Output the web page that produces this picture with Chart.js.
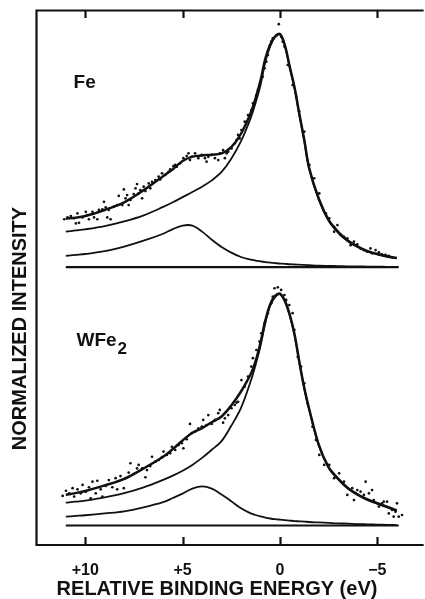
<!DOCTYPE html>
<html><head><meta charset="utf-8">
<style>html,body{margin:0;padding:0;background:#fff;}canvas{display:block;}</style>
</head><body>
<canvas id="c" width="425" height="599"></canvas>
<script src="https://cdn.jsdelivr.net/npm/chart.js@4.4.0/dist/chart.umd.min.js"></script>
<script>
// ---- data (relative binding energy in eV, normalized intensity above each panel's zero line) ----
const tickValues = [10, 5, 0, -5];
const tickLabels = ['+10', '+5', '0', '\u22125'];
const panelNames = ['Fe', 'WFe'];
const panelSub = ['', '2'];

const fitE = [11, 10.5, 10, 9, 8, 7, 6, 5.5, 5, 4.5, 4, 3.5, 3, 2.5, 2, 1.5, 1.25, 1, 0.75, 0.5, 0.25, 0,
  -0.25, -0.5, -0.75, -1, -1.25, -1.5, -2, -2.5, -3, -3.5, -4, -4.5, -5, -5.5, -6];

const feTotal = [0.208, 0.212, 0.219, 0.245, 0.278, 0.330, 0.390, 0.420, 0.455, 0.474, 0.479, 0.482, 0.488, 0.515, 0.572, 0.662, 0.725, 0.800, 0.895, 0.955, 0.990, 1.000,
  0.952, 0.860, 0.770, 0.655, 0.545, 0.425, 0.292, 0.202, 0.150, 0.113, 0.088, 0.068, 0.056, 0.046, 0.039];
const feMain = [0.152, 0.157, 0.162, 0.176, 0.196, 0.222, 0.258, 0.278, 0.300, 0.322, 0.345, 0.372, 0.408, 0.465, 0.540, 0.640, 0.705, 0.780, 0.880, 0.948, 0.987, 0.998,
  0.950, 0.857, 0.766, 0.651, 0.541, 0.421, 0.288, 0.198, 0.146, 0.110, 0.085, 0.066, 0.054, 0.044, 0.038];
const feSat = [0.048, 0.052, 0.056, 0.068, 0.088, 0.113, 0.143, 0.163, 0.178, 0.178, 0.152, 0.117, 0.086, 0.062, 0.043, 0.032, 0.028, 0.024, 0.021, 0.019, 0.017, 0.015,
  0.014, 0.012, 0.011, 0.010, 0.009, 0.008, 0.006, 0.005, 0.004, 0.003, 0.003, 0.002, 0.002, 0.001, 0.001];

const wTotal = [0.131, 0.139, 0.148, 0.172, 0.200, 0.245, 0.295, 0.328, 0.365, 0.398, 0.418, 0.443, 0.468, 0.515, 0.575, 0.650, 0.705, 0.785, 0.880, 0.950, 0.985, 0.995,
  0.965, 0.905, 0.820, 0.700, 0.590, 0.500, 0.345, 0.250, 0.200, 0.160, 0.133, 0.112, 0.096, 0.081, 0.065];
const wMain = [0.098, 0.102, 0.107, 0.121, 0.139, 0.164, 0.196, 0.214, 0.235, 0.260, 0.290, 0.325, 0.362, 0.428, 0.505, 0.620, 0.690, 0.770, 0.870, 0.943, 0.980, 0.992,
  0.962, 0.902, 0.817, 0.697, 0.587, 0.497, 0.342, 0.247, 0.197, 0.157, 0.130, 0.109, 0.093, 0.078, 0.062];
const wSat = [0.038, 0.041, 0.044, 0.052, 0.061, 0.078, 0.100, 0.118, 0.137, 0.158, 0.168, 0.158, 0.133, 0.104, 0.074, 0.052, 0.045, 0.039, 0.034, 0.030, 0.027, 0.025,
  0.023, 0.021, 0.019, 0.018, 0.017, 0.015, 0.013, 0.011, 0.009, 0.008, 0.006, 0.005, 0.004, 0.003, 0.002];

const baseE = [11, -6.1];
const baseH = [0, 0];

const feDotE = [11.08, 10.91, 10.74, 10.57, 10.48, 10.32, 10.40, 10.14, 9.97, 9.89, 9.81, 9.63, 9.55, 9.38, 9.30, 9.12, 9.04, 8.95, 8.87, 8.79, 8.70, 8.53, 8.36, 8.28, 8.10, 8.02, 7.93, 7.85, 7.77, 7.68,
  7.51, 7.42, 7.34, 7.26, 7.17, 7.08, 7.00, 6.91, 6.74, 6.66, 6.57, 6.40, 6.23, 6.15, 6.06, 5.89, 5.72, 5.64, 5.47, 5.38, 5.30, 5.13, 4.96, 4.79, 4.70, 4.62, 4.53, 4.36, 4.19, 4.02,
  3.85, 3.77, 3.68, 3.51, 3.34, 3.17, 3.09, 2.92, 2.83, 2.74, 2.66, 2.49, 2.32, 2.23, 2.15, 2.07,
  1.98, 1.81, 1.64, 1.47, 1.39, 1.21, 1.13, 1.05, 0.88, 0.79, 0.70, 0.62, 0.54, 0.45, 0.37, 0.19, 0.06, -0.06, -0.14, -0.23, -0.40, -0.65, -0.83, -0.99,
  -1.25, -1.51, -1.76, -2.02, -2.36, -2.53, -2.78, -2.95, -2.78, -3.12, -3.29, -3.46, -3.63, -3.80, -3.97, -4.14, -4.31, -4.48, -4.65, -4.73, -4.91, -5.08, -5.24, -5.42, -5.59];
const feDotH = [0.205, 0.213, 0.219, 0.209, 0.187, 0.190, 0.230, 0.213, 0.237, 0.223, 0.205, 0.237, 0.213, 0.205, 0.245, 0.248, 0.280, 0.256, 0.213, 0.245, 0.205, 0.259, 0.266, 0.305, 0.266, 0.333, 0.295, 0.309, 0.266, 0.288,
  0.313, 0.338, 0.356, 0.316, 0.330, 0.295, 0.345, 0.326, 0.359, 0.338, 0.366, 0.373, 0.388, 0.376, 0.402, 0.395, 0.409, 0.419, 0.433, 0.438, 0.430, 0.445, 0.467, 0.476, 0.488, 0.459, 0.473, 0.488, 0.467, 0.481,
  0.467, 0.452, 0.473, 0.481, 0.467, 0.459, 0.488, 0.502, 0.467, 0.488, 0.495, 0.509, 0.531, 0.545, 0.567, 0.552,
  0.588, 0.624, 0.652, 0.674, 0.702, 0.738, 0.760, 0.781, 0.817, 0.853, 0.881, 0.910, 0.946, 0.967, 0.981, 0.993, 1.042, 0.988, 0.967, 0.946, 0.867, 0.781, 0.731, 0.667,
  0.581, 0.438, 0.381, 0.316, 0.230, 0.209, 0.173, 0.180, 0.152, 0.137, 0.130, 0.123, 0.094, 0.109, 0.097, 0.080, 0.073, 0.066, 0.080, 0.059, 0.073, 0.063, 0.055, 0.052, 0.048];

const wDotE = [11.16, 10.99, 10.83, 10.65, 10.57, 10.40, 10.23, 10.14, 9.97, 9.81, 9.72, 9.63, 9.46, 9.38, 9.21, 9.12, 8.95, 8.79, 8.61, 8.44, 8.36, 8.19, 8.02, 7.93, 7.77, 7.68, 7.51, 7.34, 7.26, 7.08,
  6.91, 6.83, 6.66, 6.57, 6.40, 6.23, 6.06, 5.98, 5.81, 5.64, 5.55, 5.38, 5.21, 5.04, 4.96, 4.79, 4.62, 4.53, 4.36, 4.19, 4.02, 3.94, 3.77, 3.68, 3.51, 3.34, 3.17, 3.09, 2.92, 2.83,
  2.66, 2.49, 2.32, 2.23, 2.15, 1.98, 1.81, 1.64, 1.47, 1.39, 1.21, 1.05, 0.96, 0.79, 0.62, 0.45, 0.37, 0.28, 0.11, -0.06, -0.23, -0.32, -0.48, -0.65, -0.74, -0.91, -1.08, -1.25, -1.42, -1.67,
  -1.85, -2.02, -2.27, -2.53, -2.78, -3.04, -3.29, -3.46, -3.71, -3.80, -3.97, -4.14, -4.31, -4.40, -4.57, -4.73, -4.82, -5.08, -5.24, -5.33, -5.50, -5.59, -5.76, -5.84, -5.93, -6.01, -6.10, -6.27];
const wDotH = [0.127, 0.149, 0.138, 0.160, 0.124, 0.155, 0.138, 0.174, 0.145, 0.164, 0.117, 0.188, 0.138, 0.192, 0.155, 0.124, 0.170, 0.195, 0.164, 0.203, 0.155, 0.212, 0.160, 0.203, 0.227, 0.267, 0.221, 0.245, 0.260, 0.245,
  0.207, 0.238, 0.255, 0.295, 0.274, 0.281, 0.293, 0.317, 0.303, 0.310, 0.338, 0.324, 0.345, 0.353, 0.331, 0.370, 0.436, 0.396, 0.403, 0.417, 0.424, 0.453, 0.431, 0.474, 0.436, 0.453, 0.482, 0.496, 0.441, 0.460,
  0.474, 0.503, 0.517, 0.527, 0.531, 0.624, 0.596, 0.639, 0.682, 0.718, 0.753, 0.789, 0.825, 0.868, 0.911, 0.954, 0.982, 1.018, 1.022, 1.011, 0.989, 0.968, 0.946, 0.911, 0.839, 0.724, 0.682, 0.610, 0.524, 0.424,
  0.367, 0.303, 0.260, 0.260, 0.203, 0.224, 0.188, 0.131, 0.160, 0.109, 0.152, 0.145, 0.131, 0.188, 0.138, 0.152, 0.109, 0.081, 0.095, 0.102, 0.102, 0.052, 0.067, 0.038, 0.059, 0.095, 0.038, 0.045];

// vertical arrangement of the two panels on one shared intensity axis
const panelOffset = [1.109, 0];
const yMin = -0.0837, yMax = 2.212;
const xMin = -7.38, xMax = 12.53;

// ---- build datasets ----
const INK = '#111111';
function pts(E, H, off) { return E.map((e, i) => ({ x: e, y: H[i] + off })); }
function lineDS(E, H, off, w) {
  return { type: 'line', data: pts(E, H, off), borderColor: INK, borderWidth: w, pointRadius: 0,
    fill: false, tension: 0.35, showLine: true, order: 1 };
}
function dotDS(E, H, off) {
  return { type: 'scatter', data: pts(E, H, off), backgroundColor: INK, borderWidth: 0,
    pointRadius: 1.35, pointHoverRadius: 1.35, showLine: false, order: 2 };
}
const datasets = [
  lineDS(baseE, baseH, panelOffset[0], 2.2),
  lineDS(fitE, feSat, panelOffset[0], 1.8),
  lineDS(fitE, feMain, panelOffset[0], 1.8),
  lineDS(fitE, feTotal, panelOffset[0], 2.5),
  dotDS(feDotE, feDotH, panelOffset[0]),
  lineDS(baseE, baseH, panelOffset[1], 2.2),
  lineDS(fitE, wSat, panelOffset[1], 1.8),
  lineDS(fitE, wMain, panelOffset[1], 1.8),
  lineDS(fitE, wTotal, panelOffset[1], 2.5),
  dotDS(wDotE, wDotH, panelOffset[1]),
];

const FONT = '"Liberation Sans", Arial, Helvetica, sans-serif';

const framePlugin = {
  id: 'frame',
  afterDraw(chart) {
    const { ctx, chartArea: { left, top, right, bottom }, scales: { x, y } } = chart;
    ctx.save();
    ctx.strokeStyle = INK; ctx.lineWidth = 2.2; ctx.lineCap = 'butt';
    ctx.beginPath();
    ctx.moveTo(right, top + 0.5); ctx.lineTo(left + 0.5, top + 0.5);
    ctx.lineTo(left + 0.5, bottom); ctx.lineTo(right, bottom);
    ctx.stroke();
    ctx.beginPath();
    tickValues.forEach(v => {
      const px = Math.round(x.getPixelForValue(v)) + 0.5;
      ctx.moveTo(px, top); ctx.lineTo(px, top + 8);
      ctx.moveTo(px, bottom); ctx.lineTo(px, bottom - 8);
    });
    ctx.stroke();
    ctx.fillStyle = INK;
    // axis titles
    ctx.font = 'bold 20px ' + FONT;
    ctx.textAlign = 'center'; ctx.textBaseline = 'alphabetic';
    ctx.fillText('RELATIVE BINDING ENERGY (eV)', 217, 595);
    ctx.save();
    ctx.translate(20, 328.5); ctx.rotate(-Math.PI / 2);
    ctx.textBaseline = 'middle';
    ctx.fillText('NORMALIZED INTENSITY', 0, 0);
    ctx.restore();
    // panel labels
    ctx.textAlign = 'left'; ctx.textBaseline = 'alphabetic';
    const labelPos = [{ e: 10.6, h: 0.768 }, { e: 10.45, h: 0.772 }];
    panelNames.forEach((name, i) => {
      const lx = x.getPixelForValue(labelPos[i].e);
      const ly = y.getPixelForValue(labelPos[i].h + panelOffset[i]);
      ctx.font = 'bold 19px ' + FONT;
      ctx.fillText(name, lx, ly);
      if (panelSub[i]) {
        const w = ctx.measureText(name).width;
        ctx.font = 'bold 17px ' + FONT;
        ctx.fillText(panelSub[i], lx + w + 1, ly + 8);
      }
    });
    ctx.restore();
  }
};

new Chart(document.getElementById('c'), {
  data: { datasets },
  options: {
    responsive: false, animation: false, devicePixelRatio: 1,
    layout: { padding: { top: 10, right: 0, left: 0, bottom: 0 } },
    plugins: { legend: { display: false }, tooltip: { enabled: false }, title: { display: false } },
    scales: {
      x: {
        type: 'linear', position: 'bottom', reverse: true, min: xMin, max: xMax,
        grid: { display: false }, border: { display: false },
        afterBuildTicks: s => { s.ticks = tickValues.map(v => ({ value: v })); },
        afterFit: s => { s.height = 54; },
        ticks: { color: INK, padding: 8, font: { family: FONT, size: 16, weight: 'bold' },
          maxRotation: 0, autoSkip: false,
          callback: v => { const i = tickValues.indexOf(v); return i >= 0 ? tickLabels[i] : ''; } }
      },
      y: {
        type: 'linear', min: yMin, max: yMax,
        grid: { display: false }, border: { display: false },
        ticks: { display: false },
        afterFit: s => { s.width = 36; }
      }
    }
  },
  plugins: [framePlugin]
});
</script>
</body></html>
